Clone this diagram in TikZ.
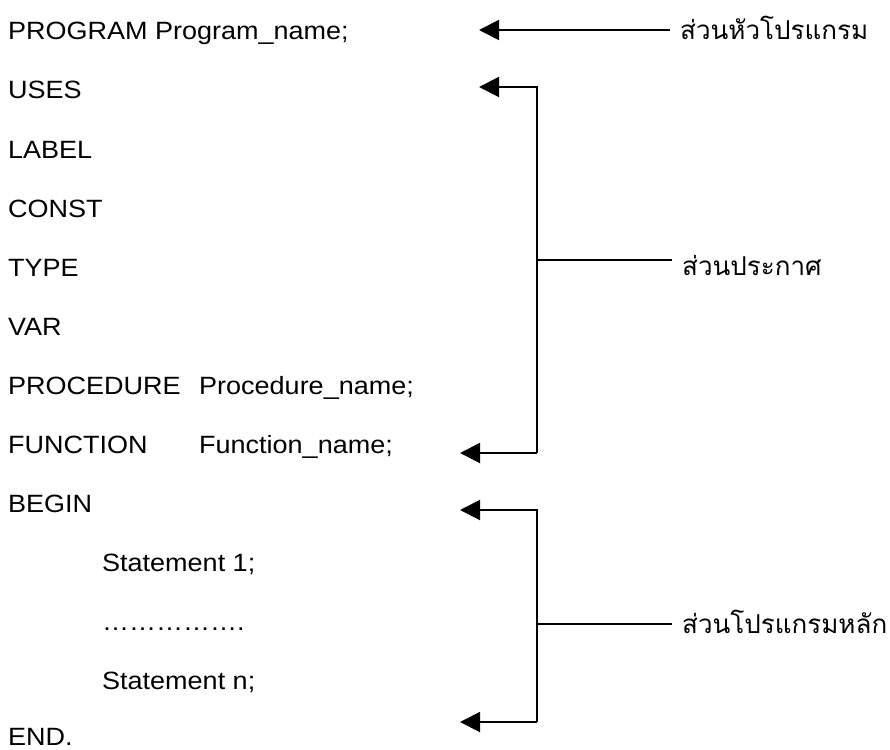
\documentclass[tikz,border=0pt]{standalone}
\usepackage{fontspec}
\setmainfont[FakeStretch=1.08]{Liberation Sans}
\newfontfamily\thaifont[Script=Thai]{Loma}
\usetikzlibrary{arrows.meta}
\begin{document}
\begin{tikzpicture}[x=1pt,y=-1pt,
  code/.style={anchor=base west,inner sep=0pt,font=\fontsize{25}{30}\selectfont},
  lab/.style={anchor=base west,inner xsep=10pt,inner ysep=0pt,font=\thaifont\fontsize{26}{31}\selectfont},
  conn/.style={line width=2pt},
  tip/.style={{Triangle[length=20pt,width=20pt]}-}]
\useasboundingbox (0,0) rectangle (890,749);
% code lines
\node[code] (c1) at (8,40) {PROGRAM Program\_name;};
\node[code] (c2) at (8,99) {USES};
\node[code] (c3) at (8,158) {LABEL};
\node[code] (c4) at (8,217) {CONST};
\node[code] (c5) at (8,276) {TYPE};
\node[code] (c6) at (8,335) {VAR};
\node[code] (c7) at (8,394) {PROCEDURE};
\node[code] (c7b) at (199,394) {Procedure\_name;};
\node[code] (c8) at (8,453) {FUNCTION};
\node[code] (c8b) at (199,453) {Function\_name;};
\node[code] (c9) at (8,512) {BEGIN};
\node[code] (c10) at (102,571) {Statement 1;};
\node[code] (c11) at (102,630) {\dots\dots\dots\dots\dots.};
\node[code] (c12) at (102,689) {Statement n;};
\node[code] (c13) at (8,745) {END.};
% labels
\node[lab] (l1) at (670,40) {ส่วนหัวโปรแกรม};
\node[lab] (l2) at (672,275) {ส่วนประกาศ};
\node[lab] (l3) at (672,633) {ส่วนโปรแกรมหลัก};
% arrow tips and bracket corners
\coordinate (t1) at (479,30);
\coordinate (t2) at (479,87);
\coordinate (t3) at (460,453);
\coordinate (t4) at (460,510);
\coordinate (t5) at (460,722);
\coordinate (k2a) at (537,87);
\coordinate (k2b) at (537,453);
\coordinate (m2) at (537,260);
\coordinate (k3a) at (537,510);
\coordinate (k3b) at (537,722);
\coordinate (m3) at (537,624);
% connectors
\draw[conn,tip] (t1) -- (l1.west |- t1);
\draw[conn,tip] (t2) -- (k2a) -- (k2b);
\draw[conn,tip] (t3) -- (k2b);
\draw[conn] (m2) -- (l2.west |- m2);
\draw[conn,tip] (t4) -- (k3a) -- (k3b);
\draw[conn,tip] (t5) -- (k3b);
\draw[conn] (m3) -- (l3.west |- m3);
\end{tikzpicture}
\end{document}
